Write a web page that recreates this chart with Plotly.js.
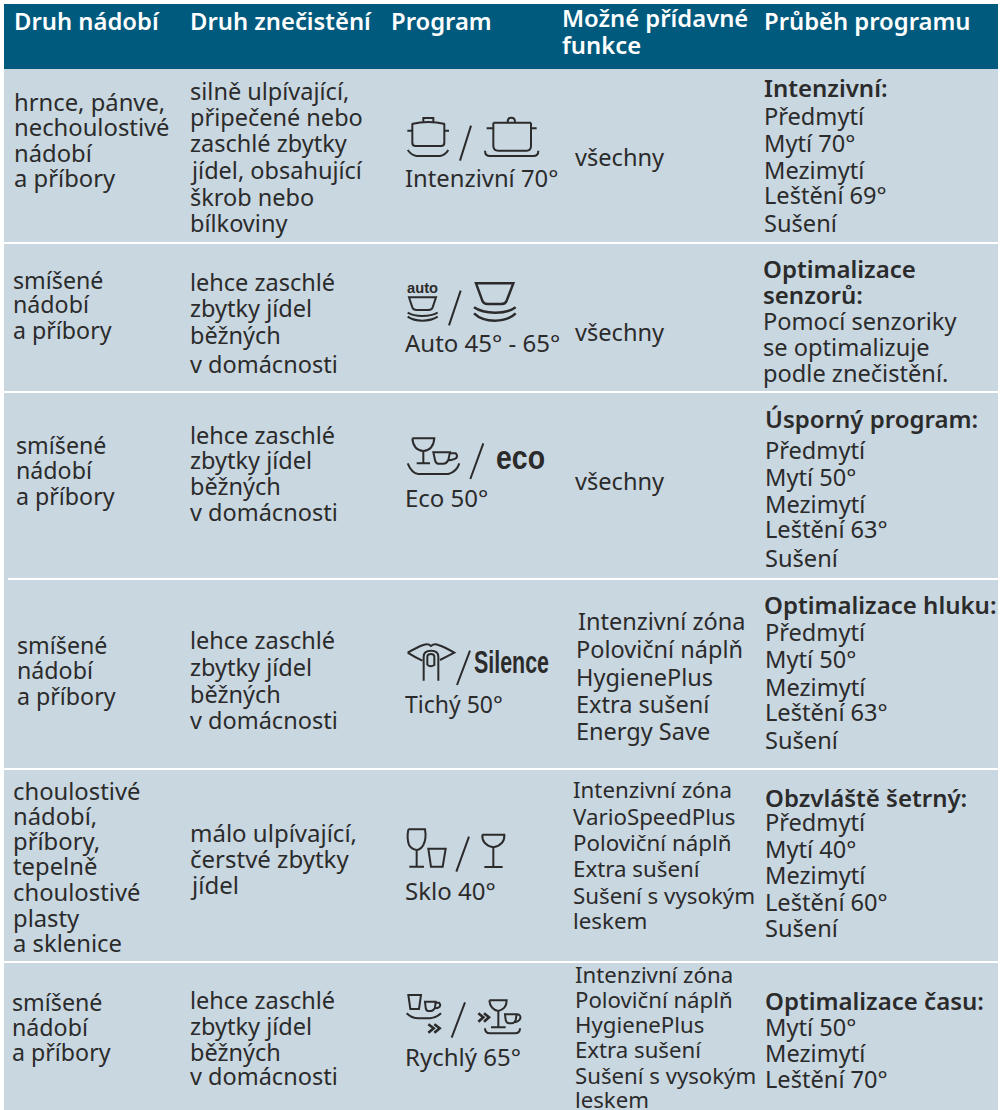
<!DOCTYPE html>
<html><head><meta charset="utf-8">
<script src="https://cdn.plot.ly/plotly-3.0.1.min.js"></script>
<style>html,body{margin:0;padding:0;background:#fff}#c{width:1004px;height:1110px}</style>
</head><body><div id="c"></div>
<script>
// ---- table content ----
const headers = ["Druh nádobí","Druh znečistění","Program",["Možné přídavné","funkce"],"Průběh programu"];
const dishes = [
 ["hrnce, pánve,","nechoulostivé","nádobí","a příbory"],
 ["smíšené","nádobí","a příbory"],
 ["smíšené","nádobí","a příbory"],
 ["smíšené","nádobí","a příbory"],
 ["choulostivé","nádobí,","příbory,","tepelně","choulostivé","plasty","a sklenice"],
 ["smíšené","nádobí","a příbory"]];
const soiling = [
 ["silně ulpívající,","připečené nebo","zaschlé zbytky","jídel, obsahující","škrob nebo","bílkoviny"],
 ["lehce zaschlé","zbytky jídel","běžných","v domácnosti"],
 ["lehce zaschlé","zbytky jídel","běžných","v domácnosti"],
 ["lehce zaschlé","zbytky jídel","běžných","v domácnosti"],
 ["málo ulpívající,","čerstvé zbytky","jídel"],
 ["lehce zaschlé","zbytky jídel","běžných","v domácnosti"]];
const programs = ["Intenzivní 70°","Auto 45° - 65°","Eco 50°","Tichý 50°","Sklo 40°","Rychlý 65°"];
const functions = [
 ["všechny"],["všechny"],["všechny"],
 ["Intenzivní zóna","Poloviční náplň","HygienePlus","Extra sušení","Energy Save"],
 ["Intenzivní zóna","VarioSpeedPlus","Poloviční náplň","Extra sušení","Sušení s vysokým","leskem"],
 ["Intenzivní zóna","Poloviční náplň","HygienePlus","Extra sušení","Sušení s vysokým","leskem"]];
const courseTitles = [["Intenzivní:"],["Optimalizace","senzorů:"],["Úsporný program:"],["Optimalizace hluku:"],["Obzvláště šetrný:"],["Optimalizace času:"]];
const courseSteps = [
 ["Předmytí","Mytí 70°","Mezimytí","Leštění 69°","Sušení"],
 ["Pomocí senzoriky","se optimalizuje","podle znečistění."],
 ["Předmytí","Mytí 50°","Mezimytí","Leštění 63°","Sušení"],
 ["Předmytí","Mytí 50°","Mezimytí","Leštění 63°","Sušení"],
 ["Předmytí","Mytí 40°","Mezimytí","Leštění 60°","Sušení"],
 ["Mytí 50°","Mezimytí","Leštění 70°"]];

// ---- layout of the cells (page pixels) ----
const INK="#2b2b2b", HEAD="#005a7d", BODY="#c9d7e1";
const dishPos = {x:[14,13,16,17,13,12], size:[23.8,23.2,23.2,23.2,23.8,23.2], y:[[103,128,154,179],[281,305,331],[446,471,497],[646,671,697],[792,817,842,867,893,919,944],[1003,1028,1053]]};
const soilPos = {x:[190,190,190,190,190,190], size:[23.5,23.5,23.5,23.5,24,23.5], y:[[92,118,144,171,198,224],[283,309,336,365],[436,461,487,513],[641,668,695,721],[833,859,885],[1001,1027,1053,1077]]};
const progPos = {x:405, y:[179,343,498,705,891,1057], size:[23.8,24,24,23,24,24]};
const funcPos = {x:[575,575,575,[578,576,576,576,576],573,575], size:[23.6,23.6,23.6,23.5,22.3,22.2], y:[[158],[333],[482],[622,650,678,705,732],[790,817,843,869,896,921],[975,1000,1025,1050,1076,1100]]};
const titlePos = {x:[764,763,765,764,765,765], y:[[88],[269,295],[419],[605],[798],[1001]]};
const stepPos = {x:[764,763,765,765,765,765], y:[[117,144,171,196,224],[322,348,374],[451,478,505,530,559],[633,660,688,713,741],[823,850,876,903,929],[1028,1054,1080]]};
const headX=[14,190,391,562,764], rules=[243,392,579,769,962];

const ann=[];
function T(text,x,y,o={}){ann.push({text,x:x-1.5,y:y-1,xref:'x',yref:'y',xanchor:'left',yanchor:'middle',showarrow:false,borderpad:0,align:'left',
  font:{family:o.family||'"Noto Sans"',size:o.size||23.6,color:o.color||INK,weight:o.weight||400}});}
const HF={color:'#fff',weight:600,size:23.8};
headers.forEach((h,i)=>{
  if(Array.isArray(h)){T(h[0],headX[i],19,HF);T(h[1],headX[i],46,HF);}
  else T(h,headX[i],22,HF);
});
dishes.forEach((r,i)=>r.forEach((t,j)=>T(t,dishPos.x[i],dishPos.y[i][j],{size:dishPos.size[i]})));
soiling.forEach((r,i)=>r.forEach((t,j)=>T(t,soilPos.x[i],soilPos.y[i][j],{size:soilPos.size[i]})));
programs.forEach((t,i)=>T(t,progPos.x,progPos.y[i],{size:progPos.size[i]}));
functions.forEach((r,i)=>r.forEach((t,j)=>{const X=funcPos.x[i];T(t,Array.isArray(X)?X[j]:X,funcPos.y[i][j],{size:funcPos.size[i]});}));
courseTitles.forEach((r,i)=>r.forEach((t,j)=>T(t,titlePos.x[i],titlePos.y[i][j],{weight:600,size:24})));
courseSteps.forEach((r,i)=>r.forEach((t,j)=>T(t,stepPos.x[i],stepPos.y[i][j],{size:23.6})));
const condensed={auto:31,eco:49,Silence:75};
T("auto",407.5,288,{family:'"Liberation Sans"',size:15,weight:700});
T("eco",496,458,{family:'"Liberation Sans"',size:34,weight:700});
T("Silence",474,663,{family:'"Liberation Sans"',size:32,weight:700});

// ---- background and pictograms ----
const shapes=[
 {type:'rect',x0:4,x1:998,y0:4,y1:1110,fillcolor:BODY,line:{width:0},layer:'below'},
 {type:'rect',x0:4,x1:998,y0:4,y1:69,fillcolor:HEAD,line:{width:0},layer:'below'}
];
rules.forEach((y,i)=>shapes.push({type:'line',x0:i==2?8:4,x1:998,y0:y,y1:y,line:{color:'#fff',width:2},layer:'below'}));
function icon(ox,oy,d,w){
  const path=d.replace(/(-?\d+(?:\.\d+)?) (-?\d+(?:\.\d+)?)/g,(m,a,b)=>(ox+a/3).toFixed(2)+','+(oy+b/3).toFixed(2));
  shapes.push({type:'path',path,xref:'x',yref:'y',line:{color:INK,width:w||2},fillcolor:'rgba(0,0,0,0)'});
}
// intensive pots
icon(395,100,"M52 72 L52 128 Q52 138 62 138 L138 138 Q148 138 148 128 L148 72 M50 72 Q100 60 150 72 M85 64 L85 54 L115 54 L115 64 M37 92 L52 92 M148 92 L162 92 M38 150 Q50 166 65 168 L135 168 Q150 166 160 150 M228 77 L195 182");
icon(395,100,"M295 68 L295 138 Q295 152 310 152 L395 152 Q408 152 408 138 L408 68 M295 68 L408 68 M338 66 Q338 53 349 53 Q360 53 360 66 M275 85 L295 85 M408 85 L425 85 M270 152 Q270 168 285 168 L415 168 Q430 168 430 152");
// auto
icon(395,270,"M42 82 L123 82 L113 112 Q110 120 100 120 L65 120 Q55 120 52 112 Z M38 128 Q55 138 82 138 Q110 138 128 128 M38 140 Q55 152 82 152 Q110 152 128 140 M197 62 L162 166");
icon(395,270,"M243 40 L355 40 L335 92 Q332 102 320 102 L278 102 Q266 102 262 92 Z M237 112 Q260 128 300 128 Q340 128 362 112 M237 130 Q260 152 300 152 Q340 152 362 130",2.5);
// eco
icon(395,425,"M52 40 L118 40 Q115 75 85 78 Q55 75 52 40 M85 78 L85 112 M65 115 L105 115 M115 82 L165 82 L160 105 Q155 116 145 116 L130 116 Q122 116 120 105 Z M165 85 L182 85 Q188 90 185 98 Q178 104 160 106 M38 115 Q50 145 70 147 L160 147 Q185 140 193 115 M265 55 L226 162");
// silence
icon(395,630,"M38 68 Q70 50 85 45 Q100 40 108 48 Q118 40 130 45 Q150 52 178 68 Q155 80 135 90 M38 68 Q60 82 82 92 M86 152 L86 80 Q86 62 108 62 Q130 62 130 80 L130 152 M97 105 L97 80 Q97 72 108 72 Q118 72 118 80 L118 105 Q108 112 97 105 M225 62 L186 165");
// glass
icon(395,820,"M40 28 L90 28 Q95 55 85 75 Q78 88 65 90 Q50 88 42 75 Q35 55 40 28 M65 90 L65 138 M43 140 L87 140 M100 86 L152 86 L143 140 L108 140 Z M222 50 L184 155 M262 44 L328 44 Q330 75 295 82 Q260 75 262 44 M295 82 L295 140 M268 141 L323 141");
// quick
icon(395,985,"M40 30 L78 30 L72 72 L46 72 Z M90 50 L122 50 L120 68 Q115 78 108 78 L100 78 Q93 78 92 68 Z M122 53 L132 53 Q138 58 134 65 Q128 70 120 70 M35 85 Q50 100 70 100 L105 100 Q125 98 138 85 M210 52 L170 158 M283 46 L335 46 Q335 72 310 78 Q285 72 283 46 M310 78 L310 125 M288 127 L332 127 M330 88 L365 88 L362 105 Q358 115 350 115 L342 115 Q335 115 332 105 Z M365 88 Q378 88 376 100 Q372 110 358 112 M270 130 Q270 145 285 145 L360 145 Q375 145 375 130");
icon(395,985,"M100 118 L116 130 L100 143 M118 118 L134 130 L118 143 M250 85 L265 97 L250 110 M267 85 L282 97 L267 110",2.6);

Plotly.newPlot('c',[],{
  width:1004,height:1110,margin:{l:0,r:0,t:0,b:0},paper_bgcolor:'#fff',plot_bgcolor:'#fff',showlegend:false,
  xaxis:{range:[0,1004],visible:false,fixedrange:true},
  yaxis:{range:[1110,0],visible:false,fixedrange:true},
  shapes,annotations:ann
},{displayModeBar:false,staticPlot:true}).then(gd=>{
  // the pictogram lettering is a condensed face: squeeze it to its width
  gd.querySelectorAll('.annotation-text').forEach(n=>{
    const w=condensed[n.textContent];
    if(w){n.setAttribute('textLength',w);n.setAttribute('lengthAdjust','spacingAndGlyphs');}
  });
});
</script></body></html>
